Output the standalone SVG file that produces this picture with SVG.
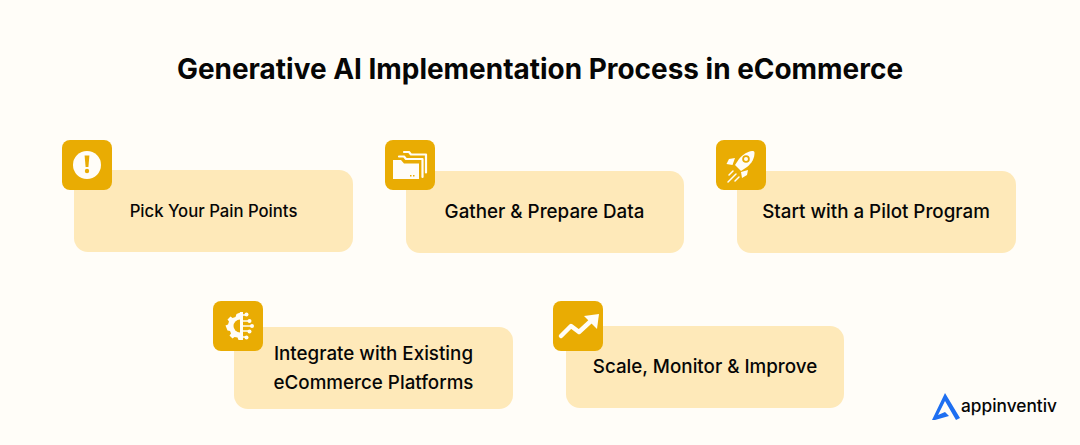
<svg xmlns="http://www.w3.org/2000/svg" width="1080" height="445" viewBox="0 0 1080 445">
<style>
.card{fill:#fee9b9}
.badge{fill:#e9ac03}
.w{fill:#fffdf8}
.ws{fill:none;stroke:#fffdf8;stroke-linecap:round;stroke-linejoin:round}
text{font-family:"Inter","Liberation Sans",sans-serif;fill:#060606}
.t{font-size:18.800px;font-weight:500;text-anchor:middle}
</style>
<rect width="1080" height="445" fill="#fffdf8"/>
<text x="540" y="78.500" text-anchor="middle" style="font-size:27.950px;font-weight:700">Generative AI Implementation Process in eCommerce</text>
<g id="connectors"/>
<g id="node1">
<rect class="card" x="74" y="170" width="279" height="82" rx="14"/>
<rect class="badge" x="62" y="140" width="50" height="50" rx="8"/>
<circle class="w" cx="87" cy="165" r="14"/>
<path class="badge" d="M84.600 155.500h4.800l-1 11.500h-2.800z"/><circle class="badge" cx="87" cy="171" r="2.200"/>
<text class="t" x="213.500" y="217" style="font-size:16.700px">Pick Your Pain Points</text>
</g>
<g id="node2">
<rect class="card" x="406" y="171" width="278" height="82" rx="14"/>
<rect class="badge" x="385" y="140" width="50" height="50" rx="8"/>
<path class="ws" stroke-width="2.200" d="M404 152h5l2 2.500h15v18M399 156.500h5l2 2.500h16.500v18"/>
<path class="w" d="M393 160h8l3 3.500h15v15.500h-26z"/>
<path class="badge" d="M410 175h1.500v1.500H410zM413 175h1.500v1.500H413z"/>
<text class="t" x="544.500" y="218">Gather &amp; Prepare Data</text>
</g>
<g id="node3">
<rect class="card" x="737" y="171" width="279" height="82" rx="14"/>
<rect class="badge" x="716" y="140" width="50" height="50" rx="8"/>
<path class="w" d="M752 151c-4 .5-9 3-13 8l-4 6 6 6 6-4c5-4 7.500-9 7.500-14 0-1.500-.5-2-2.500-2z"/>
<circle class="badge" cx="746" cy="159" r="3.800"/>
<circle class="w" cx="746" cy="159" r="2"/>
<path class="w" d="M735 158l-6 1-2.500 5 6 1zM748 170l-1 5-5 3-1-6z"/>
<path class="ws" stroke-width="1.500" d="M733 171l-4 4M736 174l-8 8M739 177l-4 4"/>
<text class="t" x="876" y="218">Start with a Pilot Program</text>
</g>
<g id="node4">
<rect class="card" x="234" y="327" width="279" height="82" rx="14"/>
<rect class="badge" x="213" y="301" width="50" height="50" rx="8"/>
<path class="w" d="M241 312v28h-3l-1-2.500-3-.5-2 1.500-3-3 1.500-2-1-2.500-2.500-.5-2-5 2.500-1 1-3-1.500-2 3-3 2 1.500 3-1 1-3z" transform="translate(.5 0)"/>
<circle class="badge" cx="240" cy="326" r="6.500"/>
<rect class="w" x="240" y="312" width="3" height="28"/>
<path class="ws" stroke-width="1.500" d="M243 315h2.500M243 321h5M243 326h8M243 331h5M243 337h2.500"/>
<circle class="w" cx="246.500" cy="314.500" r="2"/><circle class="w" cx="249.500" cy="321" r="2"/><circle class="w" cx="252" cy="326" r="2"/><circle class="w" cx="249.500" cy="331.500" r="2"/><circle class="w" cx="246.500" cy="337.500" r="2"/>
<text class="t" x="373.500" y="360">Integrate with Existing</text>
<text class="t" x="373.500" y="389">eCommerce Platforms</text>
</g>
<g id="node5">
<rect class="card" x="566" y="326" width="278" height="82" rx="14"/>
<rect class="badge" x="553" y="301" width="50" height="50" rx="8"/>
<path class="ws" stroke-width="4.500" stroke-linecap="square" d="M561 336l10-10 8 6 13-12"/>
<path class="w" d="M584 316l15-2-2 15z"/>
<text class="t" x="705" y="373">Scale, Monitor &amp; Improve</text>
</g>
<g id="logo">
<path fill="#1e6ff1" d="M945 393l15 25-4 2-11-19-7 14 7-3 4 4-14 4h-3z"/>
<text x="961" y="412" style="font-size:17.300px;font-weight:500">appinventiv</text>
</g>
</svg>
